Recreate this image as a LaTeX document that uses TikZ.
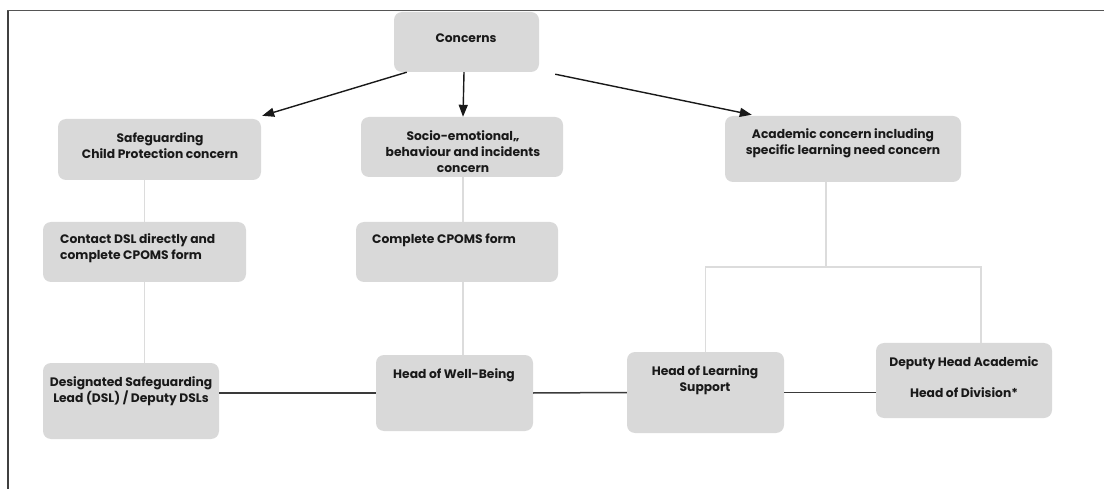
\documentclass[tikz,border=0pt]{standalone}
\usepackage{fontspec}
\setmainfont{Poppins}
\usetikzlibrary{arrows.meta,calc}
\definecolor{boxgray}{HTML}{D9D9D9}
\definecolor{lightln}{HTML}{DCDCDC}
\definecolor{darkln}{HTML}{3A3A3A}
\definecolor{frameln}{HTML}{555555}
\tikzset{
  box/.style={fill=boxgray, rounded corners=8pt, inner sep=0pt},
  txt/.style={font=\fontsize{12.3}{16}\selectfont\bfseries, text=black!90, inner sep=0pt, align=center},
  txtl/.style={txt, align=left, anchor=west},
  arr/.style={line width=1.4pt, black!90, -{Triangle[length=12pt,width=9pt]}},
  thinln/.style={lightln, line width=1.2pt},
  darkconn/.style={darkln, line width=1.5pt},
}
\begin{document}
\begin{tikzpicture}[x=1pt,y=-1pt]
\useasboundingbox (0,0) rectangle (1104,489);
% frame
\draw[frameln, line width=1pt] (7,11) -- (1104,11);
\draw[black!75, line width=2pt] (8,11) -- (8,489);
% boxes
\node[box, minimum width=145pt, minimum height=60pt] (conc) at (466.5,42) {};
\node[box, minimum width=203pt, minimum height=61pt] (safe) at (159.5,149.5) {};
\node[box, minimum width=202pt, minimum height=60pt] (socio) at (462,147) {};
\node[box, minimum width=236pt, minimum height=66pt] (acad) at (843,149) {};
\node[box, minimum width=203pt, minimum height=60pt] (contact) at (144.5,252) {};
\node[box, minimum width=202pt, minimum height=60pt] (cpoms) at (457,252) {};
\node[box, minimum width=176pt, minimum height=76pt] (dsl) at (131,401) {};
\node[box, minimum width=157pt, minimum height=76pt] (hwb) at (454.5,393) {};
\node[box, minimum width=157pt, minimum height=81pt] (hls) at (705.5,392.5) {};
\node[box, minimum width=176pt, minimum height=75pt] (dep) at (964,380.5) {};
% texts
\node[txt] (conc-t) at (466,38) {Concerns};
\node[txt] (safe-t) at (160,146) {Safeguarding\\Child Protection concern};
\node[txt] (socio-t) at (463,152) {Socio-emotional,,\\behaviour and incidents\\concern};
\node[txt] (acad-t) at (843,143) {Academic concern including\\specific learning need concern};
\node[txtl] (contact-t) at (60,248) {Contact DSL directly and\\complete CPOMS form};
\node[txtl] (cpoms-t) at (372,240) {Complete CPOMS form};
\node[txt] (dsl-t) at (131,391) {Designated Safeguarding\\Lead (DSL) / Deputy DSLs};
\node[txt] (hwb-t) at (454,375) {Head of Well-Being};
\node[txt] (hls-t) at (705,380) {Head of Learning\\Support};
\node[txt] (dep-t) at (964,377.5) {Deputy Head Academic\\[15pt]Head of Division*};
% arrows
\draw[arr] ([xshift=13pt]conc.south west) -- ([shift={(1pt,3pt)}]safe.north east);
\draw[arr] ([xshift=-2.5pt]conc.south) -- ([xshift=1pt]socio.north);
\draw[arr] ([shift={(16pt,-2pt)}]conc.south east) -- ([shift={(27pt,1pt)}]acad.north west);
% light connectors
\draw[thinln] (contact.north |- safe.south) -- (contact.north);
\draw[thinln] (contact.south) -- (contact.south |- dsl.north);
\draw[thinln] (socio.south -| 463,0) -- (cpoms.north -| 463,0);
\draw[thinln] (cpoms.south -| 463,0) -- (hwb.north -| 463,0);
\coordinate (split) at (826,267);
\coordinate (depj) at (981,267);
\draw[thinln] (acad.south -| split) -- (split);
\draw[thinln] (hls.north) |- (depj) -- (depj |- dep.north);
% dark connectors
\draw[darkconn] (dsl.east |- hwb.west) -- (hwb.west);
\draw[darkconn] (hwb.east) -- (hls.west);
\draw[darkconn] (hls.east) -- (hls.east -| dep.west);
\end{tikzpicture}
\end{document}
